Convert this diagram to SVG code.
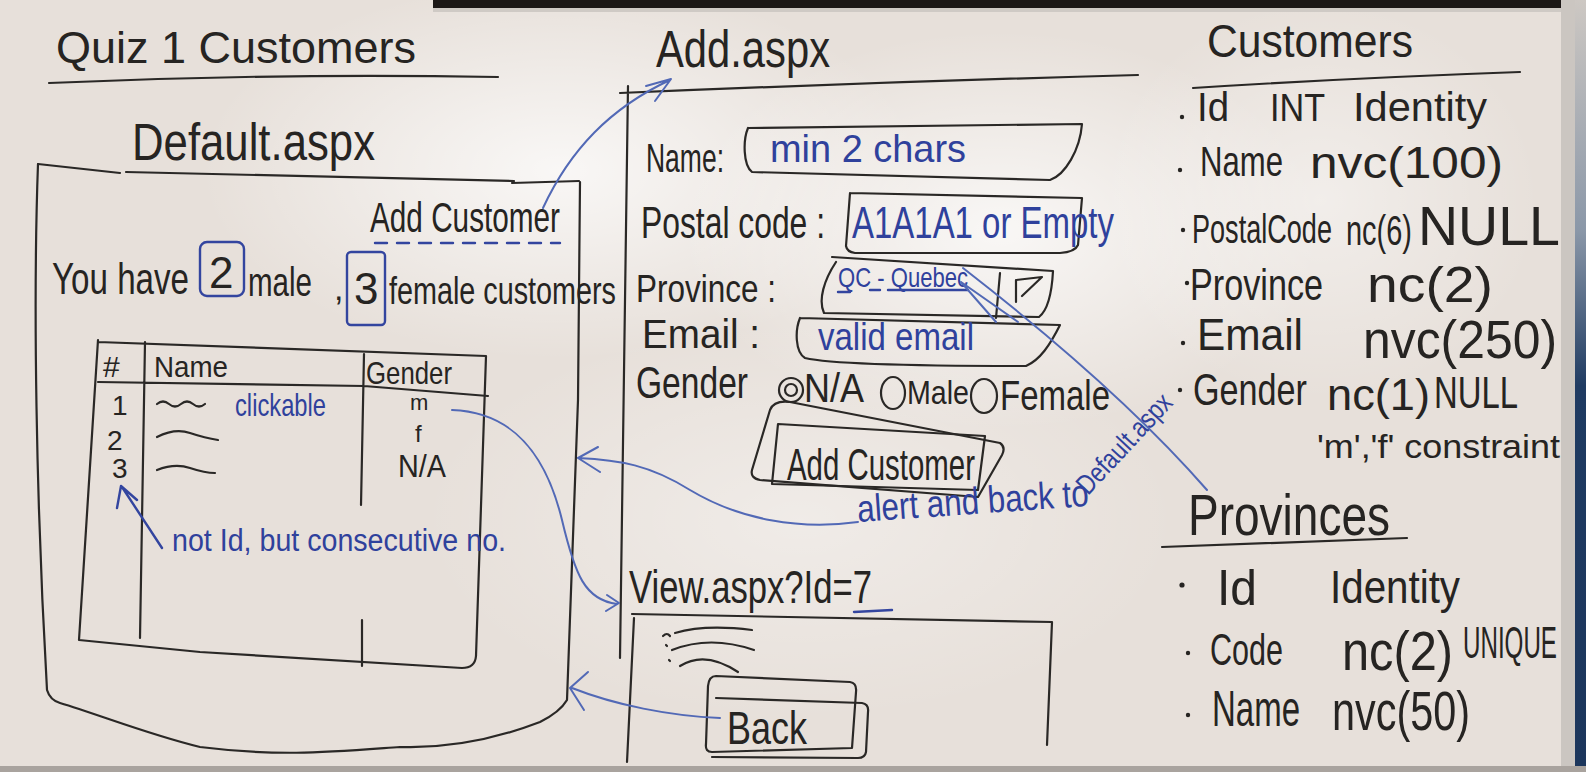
<svg xmlns="http://www.w3.org/2000/svg" width="1586" height="772" viewBox="0 0 1586 772">
<style>
.ink{fill:none;stroke:#2a2826;stroke-width:2.2;stroke-linecap:round;stroke-linejoin:round}
.inkb{fill:none;stroke:#33459f;stroke-width:2.4;stroke-linecap:round;stroke-linejoin:round}
.conn{fill:none;stroke:#5269b6;stroke-width:2;stroke-linecap:round;stroke-linejoin:round}
.t{font-family:"Liberation Sans","DejaVu Sans",sans-serif;fill:#262422}
.b{fill:#2f419c}
</style>
<defs>
<radialGradient id="glare1" cx="0.5" cy="0.5" r="0.5"><stop offset="0" stop-color="#ffffff" stop-opacity="0.75"/><stop offset="1" stop-color="#ffffff" stop-opacity="0"/></radialGradient>
<linearGradient id="edge" x1="0" y1="0" x2="0" y2="1"><stop offset="0" stop-color="#cdc8c3"/><stop offset="0.3" stop-color="#8a97a8"/><stop offset="0.5" stop-color="#1f3b62"/><stop offset="1" stop-color="#1c365c"/></linearGradient>
</defs>
<rect x="0" y="0" width="1586" height="772" fill="#e7e0da"/>
<ellipse cx="560" cy="170" rx="360" ry="190" fill="url(#glare1)"/>
<ellipse cx="1000" cy="230" rx="320" ry="200" fill="url(#glare1)"/>
<ellipse cx="800" cy="520" rx="380" ry="200" fill="url(#glare1)" opacity="0.5"/>
<ellipse cx="1320" cy="200" rx="220" ry="200" fill="url(#glare1)" opacity="0.6"/>
<rect x="433" y="0" width="1128" height="8" fill="#1c1816"/>
<rect x="433" y="8" width="1128" height="4" fill="#cfcac5"/>
<rect x="1561" y="0" width="14" height="772" fill="#cbc6c1"/>
<rect x="1575" y="0" width="11" height="772" fill="url(#edge)"/>
<rect x="0" y="766" width="1586" height="6" fill="#a9a39e"/>

<g id="title">
<text class="t" x="56" y="63" font-size="45" textLength="360" lengthAdjust="spacingAndGlyphs">Quiz 1 Customers</text>
<path class="ink" d="M49,83 Q273,73 498,77"/>
</g>

<g id="default-page">
<text class="t" transform="translate(132,160) scale(1,1.19)" font-size="43.7" textLength="243" lengthAdjust="spacingAndGlyphs">Default.aspx</text>
<path class="ink" d="M38,164 L120,173 M126,172 L514,181 M512,183 L579,181"/>
<path class="ink" d="M580,182 L578,400 L567,700 Q560,712 540,722 C480,745 430,748 400,747 C330,752 280,757 200,747 C150,735 100,715 60,703 Q50,700 47,690 C36,500 33,300 38,164"/>
<text class="t" transform="translate(370,232) scale(1,1.45)" font-size="29.7" textLength="190" lengthAdjust="spacingAndGlyphs">Add Customer</text>
<path class="inkb" d="M375,243 L560,243" stroke-dasharray="12 10"/>
<text class="t" transform="translate(52,294) scale(1,1.36)" font-size="32.4" textLength="137" lengthAdjust="spacingAndGlyphs">You have</text>
<rect class="inkb" x="200" y="242" width="44" height="54" rx="7"/>
<text class="t" x="209" y="288" font-size="44">2</text>
<text class="t" transform="translate(248,296) scale(1,1.36)" font-size="29.5" textLength="64" lengthAdjust="spacingAndGlyphs">male</text>
<text class="t" x="334" y="300" font-size="34">,</text>
<rect class="inkb" x="347" y="252" width="38" height="73" rx="4"/>
<text class="t" x="354" y="304" font-size="44">3</text>
<text class="t" transform="translate(389,304) scale(1,1.32)" font-size="28.8" textLength="227" lengthAdjust="spacingAndGlyphs">female customers</text>
<g id="customer-grid">
<path class="ink" d="M98,342 L486,356 M98,340 L79,640 L200,652 L462,668 Q475,668 476,656 L486,356"/>
<path class="ink" d="M98,382 L364,386 L488,396 M145,342 L140,638 M364,354 L361,505 M362,620 L362,666"/>
<text class="t" x="103" y="377" font-size="30">#</text>
<text class="t" transform="translate(154,377) scale(1,1.08)" font-size="27.7" textLength="74" lengthAdjust="spacingAndGlyphs">Name</text>
<text class="t" transform="translate(366,384) scale(1,1.24)" font-size="25.8" textLength="86" lengthAdjust="spacingAndGlyphs">Gender</text>
<text class="t" x="112" y="415" font-size="28">1</text>
<text class="t" x="107" y="450" font-size="28">2</text>
<text class="t" x="112" y="478" font-size="28">3</text>
<path class="ink" d="M157,404 q6,-5 12,0 q6,5 12,0 q6,-5 12,0 q6,5 12,0 M157,437 Q175,428 190,433 T218,440 M157,470 Q175,463 190,468 T215,473"/>
<text class="t b" transform="translate(235,416) scale(1,1.35)" font-size="23.7" textLength="91" lengthAdjust="spacingAndGlyphs">clickable</text>
<text class="t" x="410" y="410" font-size="22">m</text>
<text class="t" x="415" y="442" font-size="24">f</text>
<text class="t" transform="translate(398,477) scale(1,1.11)" font-size="28.8" textLength="48" lengthAdjust="spacingAndGlyphs">N/A</text>
<text class="t b" transform="translate(172,551) scale(1,1.12)" font-size="28.6" textLength="334" lengthAdjust="spacingAndGlyphs">not Id, but consecutive no.</text>
<path class="inkb" d="M162,548 L122,487 M117,508 L121,486 L137,500" stroke-width="2"/>
</g>
</g>

<g id="add-page">
<text class="t" transform="translate(656,67) scale(1,1.25)" font-size="41.7" textLength="174" lengthAdjust="spacingAndGlyphs">Add.aspx</text>
<path class="ink" d="M620,93 Q880,82 1138,75 M628,86 L620,658"/>
<text class="t" transform="translate(646,172) scale(1,1.5)" font-size="26.5" textLength="78" lengthAdjust="spacingAndGlyphs">Name:</text>
<path class="ink" d="M748,128 L1082,124 C1080,150 1065,175 1050,180 L752,172 C743,165 743,140 748,128"/>
<text class="t b" x="770" y="162" font-size="37.9" textLength="196" lengthAdjust="spacingAndGlyphs">min 2 chars</text>
<text class="t" transform="translate(641,238) scale(1,1.38)" font-size="31.8" textLength="184" lengthAdjust="spacingAndGlyphs">Postal code :</text>
<path class="ink" d="M850,193 L1082,198 L1078,245 Q1075,252 1060,253 L855,253 Q847,252 846,246 L850,193"/>
<text class="t b" transform="translate(852,238) scale(1,1.33)" font-size="33" textLength="262" lengthAdjust="spacingAndGlyphs">A1A1A1 or Empty</text>
<text class="t" transform="translate(636,302) scale(1,1.22)" font-size="31.5" textLength="140" lengthAdjust="spacingAndGlyphs">Province :</text>
<path class="ink" d="M832,257 L1053,271 C1052,290 1048,310 1039,317 L824,313 C818,300 824,280 836,262"/>
<text class="t b" transform="translate(838,287) scale(1,1.27)" font-size="22" textLength="130" lengthAdjust="spacingAndGlyphs">QC - Quebec</text>
<path class="inkb" d="M838,292 L850,292 M870,290 L880,290 M888,290 L968,290" stroke-width="2"/>
<path class="ink" d="M1000,273 L996,318 M1016,302 L1016,280 L1042,277 L1022,296"/>
<text class="t" transform="translate(642,348) scale(1,1.05)" font-size="38.6" textLength="118" lengthAdjust="spacingAndGlyphs">Email :</text>
<path class="ink" d="M800,318 L1060,325 C1050,345 1040,360 1026,366 C900,366 830,364 805,358 C795,352 795,330 800,318"/>
<text class="t b" transform="translate(818,350) scale(1,1.15)" font-size="33" textLength="156" lengthAdjust="spacingAndGlyphs">valid email</text>
<text class="t" transform="translate(636,398) scale(1,1.31)" font-size="33.6" textLength="112" lengthAdjust="spacingAndGlyphs">Gender</text>
<circle class="ink" cx="791" cy="390" r="12"/>
<circle class="ink" cx="791" cy="390" r="6"/>
<text class="t" transform="translate(804,402) scale(1,1.13)" font-size="36" textLength="60" lengthAdjust="spacingAndGlyphs">N/A</text>
<ellipse class="ink" cx="893" cy="393" rx="12" ry="16"/>
<text class="t" transform="translate(907,404) scale(1,1.19)" font-size="28.6" textLength="62" lengthAdjust="spacingAndGlyphs">Male</text>
<ellipse class="ink" cx="984" cy="396" rx="13" ry="17"/>
<text class="t" transform="translate(1000,410) scale(1,1.27)" font-size="33" textLength="110" lengthAdjust="spacingAndGlyphs">Female</text>
<path class="ink" d="M790,402 L1000,443 Q1006,447 1002,455 L978,497 L760,480 Q750,478 752,470 L770,410 Q774,400 790,402 Z"/>
<path class="ink" d="M778,424 L985,436 L978,490 L772,484 Z"/>
<text class="t" transform="translate(787,480) scale(1,1.5)" font-size="29.4" textLength="188" lengthAdjust="spacingAndGlyphs">Add Customer</text>
<text class="t b" transform="translate(858,522) rotate(-4) scale(1,1.2)" font-size="31.5" textLength="232" lengthAdjust="spacingAndGlyphs">alert and back to</text>
<text class="t b" transform="translate(1088,496) rotate(-47) scale(1,1.23)" font-size="22.7" textLength="126" lengthAdjust="spacingAndGlyphs">Default.aspx</text>
</g>

<g id="view-page">
<text class="t" transform="translate(629,603) scale(1,1.34)" font-size="34.3" textLength="243" lengthAdjust="spacingAndGlyphs">View.aspx?Id=7</text>
<path class="inkb" d="M854,612 L892,610" stroke-width="4"/>
<path class="ink" d="M632,614 L1052,622 M634,618 L627,762 M1052,622 L1047,745"/>
<path class="ink" d="M663,636 q4,-4 7,0 M675,633 Q705,624 752,630 M672,650 Q710,635 754,650 M680,666 Q705,650 738,672 M666,645 l1,1 M669,660 l1,1"/>
<path class="ink" d="M716,676 L850,682 Q857,683 856,692 L852,748 L712,752 Q705,752 706,744 L708,686 Q709,676 716,676 Z"/>
<path class="ink" d="M716,698 L862,703 Q869,704 868,712 L866,752 Q865,758 858,758 L712,757"/>
<text class="t" transform="translate(727,744) scale(1,1.28)" font-size="36" textLength="80" lengthAdjust="spacingAndGlyphs">Back</text>
</g>

<g id="customers-table">
<text class="t" transform="translate(1207,57) scale(1,1.08)" font-size="42.6" textLength="206" lengthAdjust="spacingAndGlyphs">Customers</text>
<path class="ink" d="M1193,88 Q1350,78 1520,72"/>
<g fill="#262422"><circle cx="1182" cy="117" r="2.2"/><circle cx="1180" cy="170" r="2.2"/><circle cx="1183" cy="230" r="2.2"/><circle cx="1187" cy="283" r="2.2"/><circle cx="1183" cy="343" r="2.2"/><circle cx="1180" cy="390" r="2.2"/></g>
<text class="t" transform="translate(1197,121) scale(1,1.04)" font-size="38.4" textLength="32" lengthAdjust="spacingAndGlyphs">Id</text>
<text class="t" transform="translate(1270,121) scale(1,1.12)" font-size="34" textLength="55" lengthAdjust="spacingAndGlyphs">INT</text>
<text class="t" x="1353" y="121" font-size="40" textLength="134" lengthAdjust="spacingAndGlyphs">Identity</text>
<text class="t" transform="translate(1200,176) scale(1,1.35)" font-size="31.1" textLength="83" lengthAdjust="spacingAndGlyphs">Name</text>
<text class="t" x="1310" y="178" font-size="44" textLength="193" lengthAdjust="spacingAndGlyphs">nvc(100)</text>
<text class="t" transform="translate(1192,243) scale(1,1.48)" font-size="27.1" textLength="140" lengthAdjust="spacingAndGlyphs">PostalCode</text>
<text class="t" transform="translate(1346,245) scale(1,1.45)" font-size="29" textLength="66" lengthAdjust="spacingAndGlyphs">nc(6)</text>
<text class="t" x="1418" y="245" font-size="55.6" textLength="142" lengthAdjust="spacingAndGlyphs">NULL</text>
<text class="t" transform="translate(1190,300) scale(1,1.29)" font-size="34.2" textLength="133" lengthAdjust="spacingAndGlyphs">Province</text>
<text class="t" x="1367" y="302" font-size="50" textLength="126" lengthAdjust="spacingAndGlyphs">nc(2)</text>
<text class="t" transform="translate(1197,350) scale(1,1.04)" font-size="42.4" textLength="106" lengthAdjust="spacingAndGlyphs">Email</text>
<text class="t" transform="translate(1363,358) scale(1,1.08)" font-size="49.9" textLength="194" lengthAdjust="spacingAndGlyphs">nvc(250)</text>
<text class="t" transform="translate(1193,405) scale(1,1.29)" font-size="34.2" textLength="114" lengthAdjust="spacingAndGlyphs">Gender</text>
<text class="t" x="1327" y="410" font-size="45.2" textLength="103" lengthAdjust="spacingAndGlyphs">nc(1)</text>
<text class="t" transform="translate(1434,408) scale(1,1.34)" font-size="32.9" textLength="84" lengthAdjust="spacingAndGlyphs">NULL</text>
<text class="t" x="1317" y="458" font-size="34" textLength="243" lengthAdjust="spacingAndGlyphs">'m','f' constraint</text>
</g>

<g id="provinces-table">
<text class="t" transform="translate(1188,535) scale(1,1.26)" font-size="46" textLength="202" lengthAdjust="spacingAndGlyphs">Provinces</text>
<path class="ink" d="M1162,547 L1407,538"/>
<g fill="#262422"><circle cx="1182" cy="585" r="2.6"/><circle cx="1188" cy="653" r="2.2"/><circle cx="1188" cy="715" r="2.2"/></g>
<text class="t" transform="translate(1217,605) scale(1,1.04)" font-size="48" textLength="40" lengthAdjust="spacingAndGlyphs">Id</text>
<text class="t" transform="translate(1330,603) scale(1,1.14)" font-size="40.3" textLength="130" lengthAdjust="spacingAndGlyphs">Identity</text>
<text class="t" transform="translate(1210,665) scale(1,1.44)" font-size="30.5" textLength="73" lengthAdjust="spacingAndGlyphs">Code</text>
<text class="t" transform="translate(1342,670) scale(1,1.15)" font-size="48.7" textLength="111" lengthAdjust="spacingAndGlyphs">nc(2)</text>
<text class="t" transform="translate(1463,658) scale(1,1.8)" font-size="24.2" textLength="94" lengthAdjust="spacingAndGlyphs">UNIQUE</text>
<text class="t" transform="translate(1212,726) scale(1,1.52)" font-size="33" textLength="88" lengthAdjust="spacingAndGlyphs">Name</text>
<text class="t" transform="translate(1332,730) scale(1,1.35)" font-size="41.4" textLength="138" lengthAdjust="spacingAndGlyphs">nvc(50)</text>
</g>

<g id="connectors">
<path class="conn" d="M543,208 C570,150 610,108 670,80 M646,86 L671,79 L655,101"/>
<path class="conn" d="M452,410 C510,412 545,450 562,520 C575,575 585,600 617,604 M607,595 L619,603 L606,611"/>
<path class="conn" d="M858,522 C800,530 740,520 690,490 C650,465 620,460 578,458 M598,447 L578,458 L600,472"/>
<path class="conn" d="M720,718 C670,716 615,705 572,688 M588,672 L570,688 L584,710"/>
<path class="conn" d="M1207,490 Q1120,390 963,268 M996,322 L961,282 L1018,322"/>
</g>
</svg>
